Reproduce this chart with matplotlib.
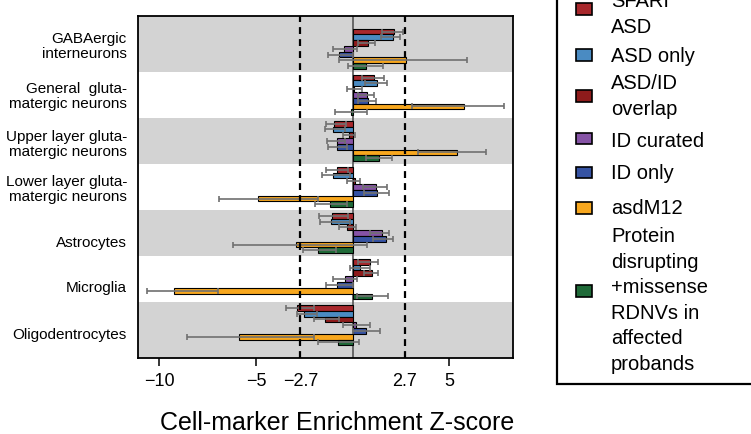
import numpy as np
import matplotlib.pyplot as plt
from matplotlib.patches import Rectangle

plt.rcParams['font.family'] = ['Liberation Sans', 'DejaVu Sans']

cell_types = ['GABAergic\ninterneurons',
              'General  gluta-\nmatergic neurons',
              'Upper layer gluta-\nmatergic neurons',
              'Lower layer gluta-\nmatergic neurons',
              'Astrocytes',
              'Microglia',
              'Oligodentrocytes']

gene_sets = ['SFARI\nASD', 'ASD only', 'ASD/ID\noverlap', 'ID curated', 'ID only', 'asdM12',
             'Protein\ndisrupting\n+missense\nRDNVs in\naffected\nprobands']
set_colors = ['#A8282C', '#4A8BC2', '#8E1B1B', '#8653A6', '#3653A3', '#F7A71E', '#1F6A38']

# enrichment z-scores (cell types in the order above)
sfari_asd = [2.16, 1.09, -0.97, -0.83, -1.05, 0.88, -2.88]
asd_only = [2.07, 1.28, -1.00, -1.00, -1.09, 0.38, -2.50]
asd_id = [0.78, 0.10, -0.19, 0.12, -0.28, 1.02, -1.43]
id_curated = [-0.43, 0.74, -0.83, 1.21, 1.53, -0.40, 0.17]
id_only = [-0.71, 0.79, -0.83, 1.28, 1.74, -0.79, 0.71]
asdm12 = [2.74, 5.76, 5.38, -4.88, -2.95, -9.24, -5.88]
rdnv = [0.67, -0.10, 1.38, -1.17, -1.79, 0.98, -0.76]

# error bar ranges (low, high)
sfari_asd_ci = [(1.50, 2.59), (0.47, 1.64), (-1.40, -0.34), (-1.40, -0.22), (-1.72, -0.22), (0.29, 1.34), (-3.45, -2.02)]
asd_only_ci = [(1.45, 2.45), (0.64, 1.76), (-1.43, -0.40), (-1.60, -0.14), (-1.69, -0.14), (-0.14, 0.90), (-2.90, -1.86)]
asd_id_ci = [(0.29, 1.16), (-0.31, 0.47), (-0.48, 0.12), (-0.31, 0.38), (-0.69, 0.17), (0.60, 1.31), (-1.97, -0.72)]
id_curated_ci = [(-1.00, 0.24), (0.29, 1.12), (-1.30, -0.40), (0.55, 1.79), (0.90, 1.90), (-1.00, 0.24), (-0.48, 0.91)]
id_only_ci = [(-1.29, 0.00), (0.29, 1.19), (-1.29, -0.31), (0.60, 1.88), (1.07, 2.10), (-1.40, 0.00), (0.03, 1.41)]
asdm12_ci = [(-0.69, 5.93), (3.09, 7.84), (3.40, 6.90), (-6.91, -1.81), (-6.16, 0.76), (-10.66, -6.95), (-8.59, -2.02)]
rdnv_ci = [(-0.26, 1.59), (-0.91, 0.76), (0.72, 2.05), (-1.95, -0.28), (-2.55, -0.88), (0.21, 1.84), (-1.81, 0.31)]

z_scores = [sfari_asd, asd_only, asd_id, id_curated, id_only, asdm12, rdnv]
ci_ranges = [sfari_asd_ci, asd_only_ci, asd_id_ci, id_curated_ci, id_only_ci, asdm12_ci, rdnv_ci]

xticks = [-10, -5, -2.7, 2.7, 5]
xtick_labels = ['\u221210', '\u22125', '\u22122.7', '2.7', '5']
label_pos = [3.7, 12.5, 20.8, 28.5, 38.0, 45.8, 54.0]

W, H = 751, 434


def fx(x):
    return x / W


def fy(y):
    return 1 - y / H


fig = plt.figure(figsize=(W / 100, H / 100), dpi=100)
ax = fig.add_axes([fx(138), fy(358), fx(513 - 138), (358 - 16) / H])

n_sets = len(gene_sets)
n_cells = len(cell_types)
step = n_sets + 1

# alternating grey bands behind every other cell type
for g in range(0, n_cells, 2):
    lo = -10 if g == 0 else 0.5 + g * step
    hi = 100 if g == n_cells - 1 else 0.5 + (g + 1) * step
    ax.axhspan(lo, hi, color='#D3D3D3', lw=0, zorder=0)

ax.axvline(0, color='#555555', lw=1.2, zorder=1)

for k in range(n_sets):
    y = 1.5 + np.arange(n_cells) * step + k
    ax.barh(y, z_scores[k], height=1, color=set_colors[k], edgecolor='black', lw=0.8, zorder=2)
    lo = np.array([c[0] for c in ci_ranges[k]])
    hi = np.array([c[1] for c in ci_ranges[k]])
    ax.errorbar((lo + hi) / 2, y, xerr=(hi - lo) / 2, fmt='none', ecolor='#707070',
                elinewidth=1.2, capsize=2.5, capthick=1.2, zorder=3)

for x in (-2.7, 2.7):
    ax.axvline(x, color='black', lw=1.6, ls=(0, (3.1, 2.3)), zorder=4)

ax.set_xlim(-11.1, 8.3)
ax.set_ylim(58.2, -1.2)

ax.set_xticks(xticks, xtick_labels, fontsize=13)
ax.tick_params(axis='x', length=5.5, width=1.1, pad=5)
for i, t in enumerate(ax.xaxis.get_major_ticks()):
    if abs(xticks[i]) == 2.7:
        t.tick1line.set_visible(False)

ax.set_yticks(label_pos, cell_types, fontsize=11, linespacing=1.1)
ax.tick_params(axis='y', length=0, pad=8)

for s in ax.spines.values():
    s.set_linewidth(1.3)

fig.text(fx(337), fy(430.5), 'Cell-marker Enrichment Z-score', fontsize=18,
         ha='center', va='baseline')

# legend drawn by hand, box runs off the top and right of the figure
fig.patches.append(Rectangle((fx(557), fy(384)), 0.5, 1.0, transform=fig.transFigure,
                             facecolor='white', edgecolor='black', lw=1.6, zorder=5))
patch_y = [9.2, 54.8, 95.8, 138.5, 172.5, 208, 291]
# baseline of the last line of each entry
text_base = [33, 61.7, 115, 146.7, 179, 214, 370]
for k in range(n_sets):
    fig.patches.append(Rectangle((fx(576), fy(patch_y[k] + 5.8)), fx(15.7), 11.7 / H,
                                 transform=fig.transFigure, facecolor=set_colors[k],
                                 edgecolor='black', lw=1.2, zorder=6))
    fig.text(fx(611), fy(text_base[k]), gene_sets[k], fontsize=14.5, ha='left',
             va='baseline', linespacing=1.44, zorder=6)

fig.savefig('out.png', dpi=100)
